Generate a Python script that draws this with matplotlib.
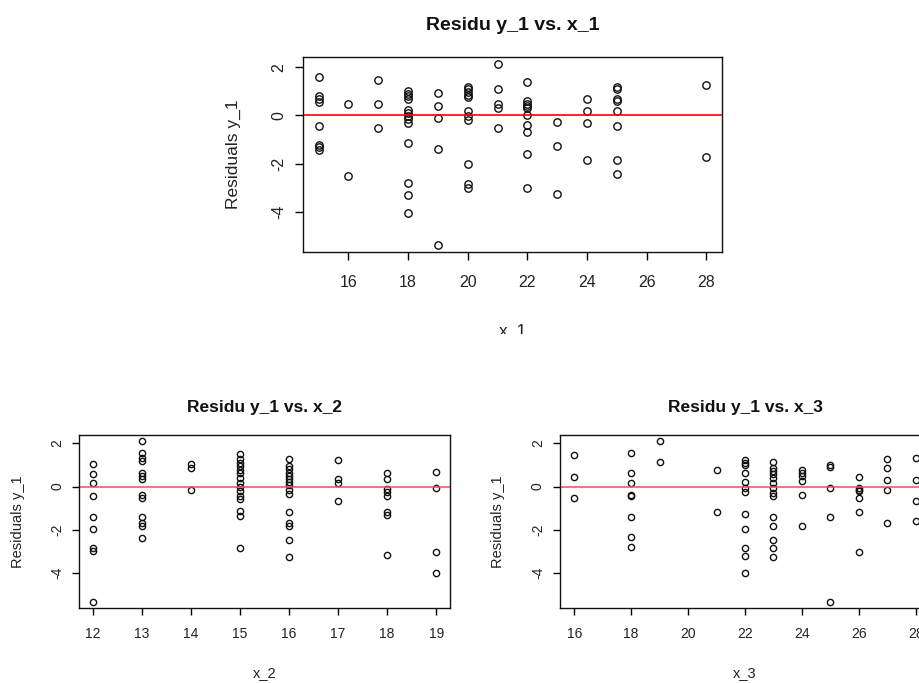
import matplotlib
matplotlib.use("Agg")
import matplotlib.pyplot as plt
from matplotlib.patches import Rectangle
import numpy as np

plt.rcParams['font.family'] = ['Liberation Sans', 'DejaVu Sans']

# residuals of y_1, grouped by the value of each predictor
x1_levels = [15, 16, 17, 18, 19, 20, 21, 22, 23, 24, 25, 28]
res_by_x1 = [
    [1.60, 0.80, 0.69, 0.57, -0.42, -1.21, -1.32, -1.44],
    [0.46, -2.53],
    [1.46, 0.46, -0.54],
    [1.01, 0.90, 0.80, 0.67, 0.21, 0.11, -0.03, -0.14, -0.31, -1.14, -2.81, -3.33, -4.06],
    [0.93, 0.39, -0.10, -1.39, -5.38],
    [1.19, 1.08, 0.97, 0.86, 0.76, 0.17, -0.03, -0.19, -2.01, -2.85, -3.01],
    [2.13, 1.11, 0.46, 0.32, -0.54],
    [1.40, 0.60, 0.49, 0.39, 0.29, 0.00, -0.38, -0.67, -1.60, -3.00],
    [-0.28, -1.28, -3.28],
    [0.67, 0.18, -0.33, -1.86],
    [1.19, 1.11, 0.67, 0.58, 0.19, -0.42, -1.86, -2.42],
    [1.26, -1.74],
]

x2_levels = [12, 13, 14, 15, 16, 17, 18, 19]
res_by_x2 = [
    [1.03, 0.59, 0.17, -0.45, -1.39, -1.96, -2.87, -2.98, -5.33],
    [2.09, 1.57, 1.34, 1.18, 0.64, 0.48, 0.33, -0.37, -0.53, -1.39, -1.67, -1.82, -2.37],
    [1.03, 0.87, -0.14],
    [1.50, 1.26, 1.10, 0.95, 0.79, 0.64, 0.40, 0.17, -0.02, -0.22, -0.45, -0.60, -1.15, -1.36, -2.87],
    [1.29, 0.95, 0.80, 0.65, 0.50, 0.35, 0.20, 0.05, -0.14, -0.33, -1.18, -1.67, -1.85, -2.48, -3.26],
    [1.21, 0.33, 0.17, -0.65],
    [0.64, 0.33, -0.11, -0.26, -0.42, -1.18, -1.31, -3.19],
    [0.67, -0.06, -3.02, -4.03],
]

x3_levels = [16, 18, 19, 21, 22, 23, 24, 25, 26, 27, 28]
res_by_x3 = [
    [1.46, 0.45, -0.53],
    [1.57, 0.61, 0.17, -0.37, -0.45, -1.39, -2.35, -2.82],
    [2.09, 1.14],
    [0.79, -1.20],
    [1.23, 1.11, 1.00, 0.64, 0.20, -0.06, -0.26, -1.26, -1.96, -2.87, -3.22, -4.03],
    [1.15, 0.87, 0.72, 0.56, 0.41, 0.17, -0.06, -0.29, -0.42, -1.39, -1.82, -2.48, -2.87, -3.26],
    [0.76, 0.64, 0.48, 0.25, -0.37, -1.85],
    [1.00, 0.92, -0.08, -1.39, -5.33],
    [0.45, -0.06, -0.14, -0.22, -0.53, -1.18, -3.02],
    [1.26, 0.87, 0.29, -0.14, -1.70],
    [1.34, 0.29, -0.65, -1.59],
]

x1_ticks = [16, 18, 20, 22, 24, 26, 28]
x2_ticks = [12, 13, 14, 15, 16, 17, 18, 19]
x3_ticks = [16, 18, 20, 22, 24, 26, 28]
y_ticks = [-4, -2, 0, 2]

W, H = 920, 684
fig = plt.figure(figsize=(W / 100, H / 100), dpi=100)


def expand(levels, groups):
    xs, ys = [], []
    for lv, g in zip(levels, groups):
        xs += [lv] * len(g)
        ys += g
    return np.array(xs), np.array(ys)


def panel(box, levels, groups, xticks, xlim, ylim, xname, big):
    l, t, r, b = box
    ax = fig.add_axes([l / W, 1 - b / H, (r - l) / W, (b - t) / H])
    if big:
        fs_tick, fs_lab, fs_title, ms, tlen, xpad, ypad, tpad = 11.5, 12.5, 14, 5.3, 5.8, 10.8, 6, 19.5
        line_col, line_w = 'red', 1.2
    else:
        fs_tick, fs_lab, fs_title, ms, tlen, xpad, ypad, tpad = 10, 10.5, 12.5, 4.5, 5, 8.6, 5.8, 16.5
        line_col, line_w = '#f24a6a', 1.1

    xs, ys = expand(levels, groups)
    ax.plot(xs, ys, 'o', mfc='none', mec='#111111', ms=ms, mew=1.0)
    ax.axhline(0, color=line_col, lw=line_w)

    ax.set_xlim(*xlim)
    ax.set_ylim(*ylim)
    ax.set_xticks(xticks, [str(v) for v in xticks])
    ax.set_yticks(y_ticks, [str(v) for v in y_ticks], rotation=90, va='center')
    ax.tick_params(axis='both', direction='out', length=tlen, width=1,
                   labelsize=fs_tick, labelcolor='#222222')
    ax.tick_params(axis='x', pad=xpad)
    ax.tick_params(axis='y', pad=ypad)
    for sp in ax.spines.values():
        sp.set_linewidth(1.0)
        sp.set_color('#111111')

    ax.set_title(f"Residu y_1 vs. {xname}", fontsize=fs_title, fontweight='bold',
                 pad=tpad, color='#111111')
    ax.set_ylabel("Residuals y_1", fontsize=fs_lab, va='center', color='#222222')
    ax.set_xlabel(xname, fontsize=fs_lab, va='center', color='#222222')
    return ax


ax1 = panel((303, 57, 722, 252), x1_levels, res_by_x1, x1_ticks,
            (14.48, 28.52), (-5.68, 2.43), "x_1", True)
ax1.yaxis.set_label_coords(-0.167, 0.5)
ax1.xaxis.set_label_coords(0.5, (252 - 331) / 195)

ax2 = panel((79, 435, 450, 608), x2_levels, res_by_x2, x2_ticks,
            (11.72, 19.28), (-5.63, 2.39), "x_2", False)
ax2.yaxis.set_label_coords(-0.164, 0.5)
ax2.xaxis.set_label_coords(0.5, -0.376)

ax3 = panel((560, 435, 930, 608), x3_levels, res_by_x3, x3_ticks,
            (15.5, 28.5), (-5.63, 2.39), "x_3", False)
ax3.yaxis.set_label_coords(-0.168, 0.5)
ax3.xaxis.set_label_coords(0.5, -0.376)

# the top chart was cropped just under its x label
fig.add_artist(Rectangle((0, 1 - 385 / H), 1, (385 - 334) / H, transform=fig.transFigure,
                         facecolor='white', edgecolor='none', zorder=10))

fig.savefig("out.png", dpi=100)
